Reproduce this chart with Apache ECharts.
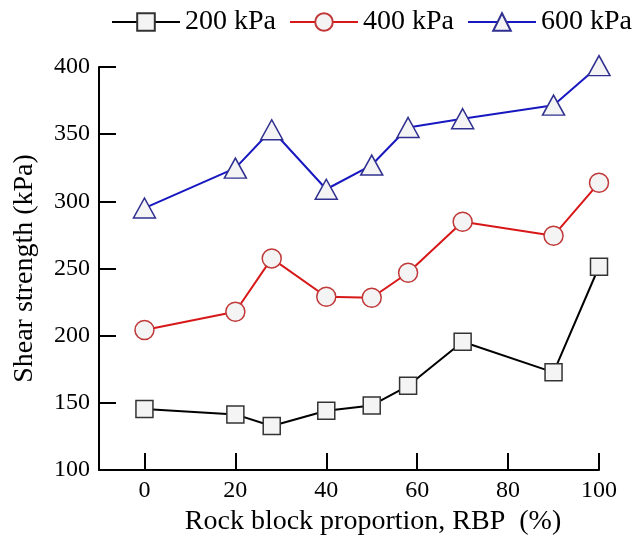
<!DOCTYPE html>
<html>
<head>
<meta charset="utf-8">
<script src="https://cdn.jsdelivr.net/npm/echarts@6/dist/echarts.min.js"></script>
<style>
  html, body { margin: 0; padding: 0; background: #fff; }
  #chart { width: 642px; height: 541px; }
</style>
</head>
<body>
<div id="chart"></div>
<script>
// Rock block proportion (%) for each test
const rbp = [0, 20, 28, 40, 50, 58, 70, 90, 100];
// Shear strength (kPa) under each normal stress
const shear200 = [145.4, 141.4, 132.7, 144.1, 148.1, 162.7, 195.5, 172.7, 251.3];
const shear400 = [204.2, 217.8, 257.5, 229.0, 228.2, 246.8, 284.8, 274.4, 313.8];
const shear600 = [295.0, 324.7, 353.3, 309.0, 327.0, 355.0, 361.5, 371.6, 401.0];
const seriesNames = ['200 kPa', '400 kPa', '600 kPa'];
const xTicks = [0, 20, 40, 60, 80, 100];
const yTicks = [100, 150, 200, 250, 300, 350, 400];

const FONT = '"Liberation Serif", "Times New Roman", serif';
const pairs = (ys) => rbp.map((x, i) => [x, ys[i]]);

const chart = echarts.init(document.getElementById('chart'), null, { renderer: 'canvas' });

chart.setOption({
  backgroundColor: '#ffffff',
  animation: false,
  legend: {
    left: 106,
    top: 3,
    itemWidth: 68,
    itemHeight: 22,
    itemGap: 13,
    textStyle: { fontFamily: FONT, fontSize: 28, color: '#000' },
    data: seriesNames
  },
  grid: { left: 99, right: 43, top: 67, bottom: 71 },
  xAxis: {
    type: 'value',
    min: -10,
    max: 100,
    name: 'Rock block proportion, RBP  (%)',
    nameLocation: 'middle',
    nameGap: 36,
    nameTextStyle: { fontFamily: FONT, fontSize: 28, color: '#000', padding: [0, 0, 0, 48] },
    axisLine: { show: true, onZero: false, lineStyle: { color: '#000', width: 2 } },
    axisTick: { show: true, inside: true, length: 17, customValues: xTicks, lineStyle: { color: '#000', width: 2 } },
    axisLabel: { customValues: xTicks, margin: 9, fontFamily: FONT, fontSize: 24, color: '#000' },
    splitLine: { show: false }
  },
  yAxis: {
    type: 'value',
    min: yTicks[0],
    max: yTicks[yTicks.length - 1],
    interval: 50,
    name: 'Shear strength (kPa)',
    nameLocation: 'middle',
    nameGap: 60,
    nameTextStyle: { fontFamily: FONT, fontSize: 28, color: '#000' },
    axisLine: { show: true, onZero: false, lineStyle: { color: '#000', width: 2 } },
    axisTick: { show: true, inside: true, length: 17, lineStyle: { color: '#000', width: 2 } },
    axisLabel: { margin: 9, fontFamily: FONT, fontSize: 24, color: '#000' },
    splitLine: { show: false }
  },
  series: [
    {
      name: seriesNames[0],
      type: 'line',
      data: pairs(shear200),
      clip: false,
      symbol: 'rect',
      symbolSize: 17,
      lineStyle: { color: '#000', width: 2 },
      itemStyle: { color: '#f4f4f4', borderColor: '#333', borderWidth: 1.5 },
      z: 3
    },
    {
      name: seriesNames[1],
      type: 'line',
      data: pairs(shear400),
      clip: false,
      symbol: 'circle',
      symbolSize: 19,
      lineStyle: { color: '#d81818', width: 2 },
      itemStyle: { color: '#f4f4f4', borderColor: '#c03838', borderWidth: 1.5 },
      z: 3
    },
    {
      name: seriesNames[2],
      type: 'line',
      data: pairs(shear600),
      clip: false,
      symbol: 'triangle',
      symbolSize: [22, 20],
      lineStyle: { color: '#1818c0', width: 2 },
      itemStyle: { color: '#f4f4f4', borderColor: '#303090', borderWidth: 1.5 },
      z: 3
    }
  ]
});
</script>
</body>
</html>
